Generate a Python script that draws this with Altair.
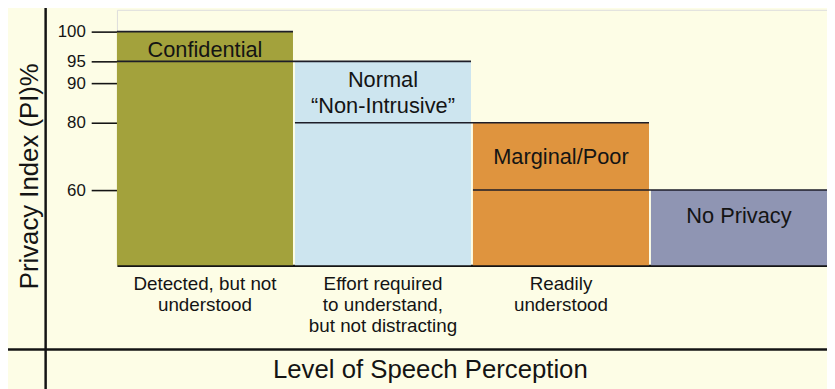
import altair as alt
import pandas as pd

# ---- data ----
categories = [
    "Detected, but not|understood",
    "Effort required|to understand,|but not distracting",
    "Readily|understood",
    " ",
]
privacy_levels = ["Confidential", "Normal|\u201cNon-Intrusive\u201d", "Marginal/Poor", "No Privacy"]
pi_top = [100, 95, 80, 60]
label_pi = [96.95, 90.6, 69.7, 53.0]
y_ticks = [60, 80, 90, 95, 100]
pi_base = 40
bar_colors = ["#a3a23c", "#cde5ef", "#df943e", "#8f95b3"]

df = pd.DataFrame({
    "category": categories,
    "level": privacy_levels,
    "pi": pi_top,
    "label_pi": label_pi,
})
df["rule_start"] = [categories[max(i - 1, 0)] for i in range(len(categories))]

FONT = "Liberation Sans"
INK = "#141414"
BG = "#fdfde6"

W, H = 717, 258

xscale = alt.Scale(domain=categories, paddingInner=0.011, paddingOuter=0)
yscale = alt.Scale(
    domain=[pi_base, 60, 80, 90, 95, 100],
    range=[258, 182, 114, 74, 52, 22],
    zero=False,
    nice=False,
)

x_axis = alt.Axis(
    title="Level of Speech Perception",
    titleFontSize=26,
    titleFontWeight="normal",
    titleColor=INK,
    titleFont=FONT,
    titleX=316,
    titleY=113,
    titleAlign="center",
    titleBaseline="alphabetic",
    labelExpr="split(datum.label, '|')",
    labelFontSize=19,
    labelFont=FONT,
    labelColor=INK,
    labelLineHeight=21.5,
    labelPadding=9,
    labelAngle=0,
    labelLimit=400,
    labelBaseline="top",
    ticks=False,
    domain=True,
    domainColor=INK,
    domainWidth=2.2,
    grid=False,
)

y_axis = alt.Axis(
    title="Privacy Index (PI)%",
    titleFontSize=26,
    titleFontWeight="normal",
    titleColor=INK,
    titleFont=FONT,
    titleX=-80,
    titleY=167.5,
    titleAngle=270,
    titleAlign="center",
    titleBaseline="alphabetic",
    values=y_ticks,
    labelFontSize=17,
    labelFont=FONT,
    labelColor=INK,
    labelPadding=6,
    tickSize=26,
    tickWidth=1.6,
    tickColor=INK,
    domain=False,
    grid=False,
)

bars = alt.Chart(df).mark_bar(stroke=None).encode(
    x=alt.X("category:N", scale=xscale, sort=categories, axis=x_axis),
    y=alt.Y("pi:Q", scale=yscale, axis=y_axis),
    y2=alt.datum(pi_base),
    color=alt.Color("category:N", scale=alt.Scale(domain=categories, range=bar_colors), legend=None),
)

rules = alt.Chart(df).mark_rule(color="#1d1d28", strokeWidth=1.6).encode(
    x=alt.X("rule_start:N", scale=xscale, sort=categories, bandPosition=0),
    x2=alt.X2("category:N", bandPosition=1),
    y=alt.Y("pi:Q", scale=yscale),
)

labels = alt.Chart(df).mark_text(
    font=FONT, fontSize=22, lineBreak="|", lineHeight=25.5, color=INK,
    baseline="middle", align="center",
).encode(
    x=alt.X("category:N", scale=xscale, sort=categories),
    y=alt.Y("label_pi:Q", scale=yscale),
    text="level:N",
)

frame = pd.DataFrame({"k": [0]})
frame_v = alt.Chart(frame).mark_rule(color=INK, strokeWidth=2.5).encode(
    x=alt.value(-72), y=alt.value(-10), y2=alt.value(400)
)
frame_h = alt.Chart(frame).mark_rule(color=INK, strokeWidth=2.5).encode(
    x=alt.value(-130), x2=alt.value(730), y=alt.value(343)
)

chart = alt.layer(bars, rules, labels, frame_v, frame_h).properties(
    width=W,
    height=H,
    autosize=alt.AutoSizeParams(type="none"),
    padding={"left": 110, "top": 0, "right": 0, "bottom": 123},
    background=BG,
).configure_view(stroke=None).configure(font=FONT)

chart.save("out.html", embed_options={"renderer": "svg", "actions": False})
